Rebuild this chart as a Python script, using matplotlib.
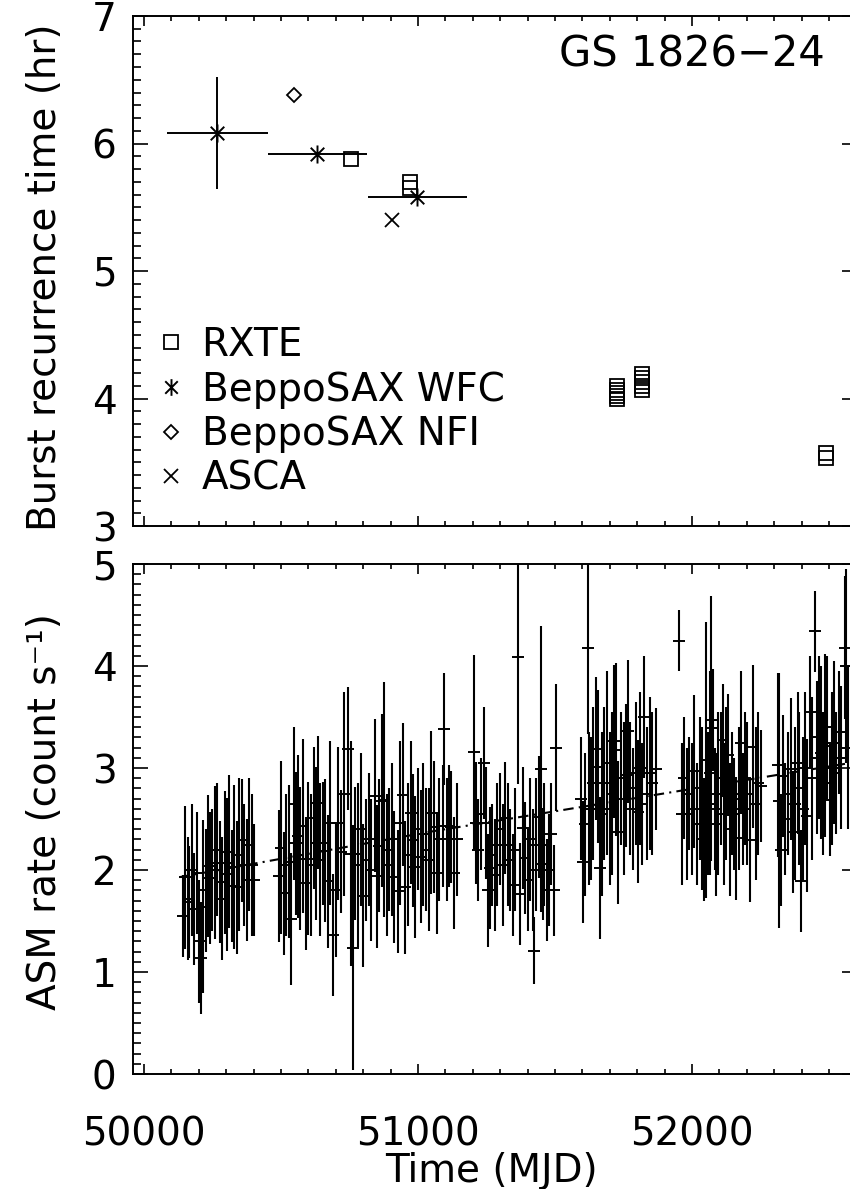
import numpy as np
import matplotlib
matplotlib.use('Agg')
import matplotlib.pyplot as plt
from matplotlib.path import Path
from matplotlib.lines import Line2D
from matplotlib.ticker import MultipleLocator, FormatStrFormatter

plt.rcParams['font.family'] = ['DejaVu Sans']

# ---- top panel: burst recurrence times (hr) ----
rxte_t = [50757, 50971, 50971,
          51728, 51728, 51728, 51728, 51728,
          51817, 51817, 51817, 51817, 51817,
          52488, 52488]
rxte_dt = [5.88, 5.70, 5.65,
           4.10, 4.07, 4.04, 4.02, 4.00,
           4.19, 4.16, 4.13, 4.10, 4.07,
           3.57, 3.53]

wfc_t = [50268, 50633, 50998]
wfc_dt = [6.08, 5.92, 5.58]
wfc_terr = [183, 182, 182]
wfc_err = [0.44, 0.0, 0.0]

nfi_t = [50546]
nfi_dt = [6.38]

asca_t = [50905]
asca_dt = [5.40]

# ---- bottom panel: RXTE/ASM rate (count/s) ----
tA = [50141, 50150, 50159, 50166, 50174, 50183, 50192, 50201, 50208, 50216,
      50225, 50233, 50241, 50250, 50259, 50268, 50277, 50285, 50294, 50303,
      50312, 50321, 50330, 50339, 50348, 50357, 50366, 50375, 50384, 50393, 50402]
rA = [1.55, 1.93, 1.72, 1.69, 2.00, 1.62, 1.97, 1.30, 1.14, 1.64,
      1.80, 2.04, 1.92, 2.00, 2.07, 2.20, 1.88, 1.72, 2.07, 1.96,
      2.18, 1.84, 2.03, 1.83, 2.15, 2.29, 2.05, 1.90, 2.25, 2.05, 1.90]
eA = [0.40, 0.70, 0.60, 0.55, 0.65, 0.55, 0.60, 0.60, 0.55, 0.85,
      0.60, 0.70, 0.65, 0.60, 0.75, 0.65, 0.60, 0.60, 0.70, 0.75,
      0.75, 0.55, 0.80, 0.65, 0.75, 0.60, 0.60, 0.60, 0.65, 0.70, 0.55]

tB = [50494, 50500, 50512, 50520, 50530, 50537, 50549, 50556, 50562, 50570,
      50580, 50591, 50600, 50610, 50620, 50628, 50634, 50644, 50652, 50660,
      50670, 50680, 50690, 50700, 50708, 50718, 50731, 50743, 50755, 50762,
      50770, 50780, 50792, 50800, 50812, 50820, 50830, 50842, 50850, 50859,
      50868, 50877, 50886, 50895, 50905, 50914, 50926, 50935, 50944, 50952,
      50962, 50973, 50981, 50990, 51000, 51010, 51020, 51030, 51040, 51047,
      51058, 51068, 51078, 51090, 51096, 51105, 51114, 51122, 51132, 51142]
rB = [1.94, 2.22, 1.77, 2.05, 2.08, 1.52, 2.65, 2.26, 2.33, 2.11,
      2.43, 1.87, 2.11, 2.05, 2.51, 2.26, 2.66, 2.10, 2.26, 2.19,
      1.89, 2.46, 1.36, 1.80, 2.46, 2.18, 2.75, 3.19, 2.16, 1.24,
      2.16, 2.05, 2.40, 1.75, 2.10, 2.30, 2.00, 2.73, 1.94, 2.24,
      2.68, 2.69, 2.05, 2.20, 2.30, 1.93, 1.79, 2.46, 2.74, 1.83,
      2.15, 2.56, 2.29, 2.03, 2.40, 2.13, 2.35, 2.20, 2.10, 2.56,
      2.42, 1.97, 2.30, 2.43, 3.38, 2.30, 2.43, 2.42, 1.97, 2.30]
eB = [0.65, 0.85, 0.60, 0.70, 0.75, 0.65, 0.75, 0.70, 0.80, 0.70,
      0.85, 0.65, 0.75, 0.70, 0.70, 0.75, 0.65, 0.75, 0.60, 0.70,
      0.65, 0.80, 0.60, 0.65, 0.75, 0.60, 1.00, 0.60, 1.10, 1.20,
      0.65, 0.80, 0.75, 0.70, 0.60, 0.65, 0.70, 0.75, 0.70, 0.65,
      0.85, 1.15, 0.70, 0.60, 0.75, 0.65, 0.60, 0.80, 0.70, 0.65,
      0.70, 0.70, 0.65, 0.70, 0.60, 0.65, 0.70, 0.60, 0.70, 0.80,
      0.65, 0.60, 0.60, 0.60, 0.55, 0.60, 0.60, 0.55, 0.55, 0.55]

tC = [51206, 51212, 51220, 51230, 51240, 51248, 51256, 51262, 51270, 51280,
      51290, 51300, 51310, 51318, 51327, 51335, 51345, 51355, 51364, 51372,
      51382, 51390, 51400, 51410, 51418, 51425, 51431, 51441, 51449, 51455,
      51461, 51470, 51479, 51487, 51495, 51504]
rC = [3.16, 2.46, 2.20, 2.55, 3.05, 2.46, 1.80, 2.02, 2.15, 1.95,
      2.25, 2.40, 2.05, 2.51, 2.25, 2.10, 1.85, 2.20, 4.09, 1.76,
      2.41, 2.12, 1.90, 2.30, 2.00, 1.21, 2.25, 2.52, 2.99, 2.06,
      2.25, 1.80, 2.00, 2.35, 1.80, 3.20]
eC = [0.95, 0.60, 0.50, 0.55, 0.55, 0.55, 0.55, 0.60, 0.50, 0.55,
      0.60, 0.55, 0.60, 0.55, 0.60, 0.50, 0.50, 0.60, 1.25, 0.50,
      0.60, 0.55, 0.50, 0.60, 0.60, 0.33, 0.65, 0.60, 1.40, 0.55,
      0.60, 0.50, 0.55, 0.50, 0.45, 0.62]

tD = [51595, 51601, 51610, 51619, 51625, 51632, 51640, 51650, 51656, 51663,
      51670, 51680, 51690, 51700, 51708, 51717, 51722, 51730, 51740, 51750,
      51759, 51765, 51775, 51785, 51795, 51802, 51810, 51818, 51826, 51835,
      51845, 51855, 51869]
rD = [2.70, 2.08, 2.45, 4.18, 2.60, 2.60, 2.85, 3.19, 3.01, 2.02,
      2.55, 2.85, 3.05, 2.60, 2.75, 3.26, 3.18, 2.37, 2.90, 2.70,
      2.93, 3.36, 2.80, 2.60, 2.95, 2.57, 3.00, 2.65, 3.50, 2.75,
      2.95, 2.85, 2.99]
eD = [0.60, 0.60, 0.70, 0.85, 0.75, 0.70, 0.75, 0.70, 0.75, 0.70,
      0.80, 0.75, 0.90, 0.75, 0.80, 0.75, 0.85, 0.70, 0.65, 0.75,
      0.70, 0.70, 0.65, 0.60, 0.70, 0.70, 0.75, 0.60, 0.60, 0.65,
      0.75, 0.70, 0.60]

tE = [51954, 51965, 51972, 51980, 51990, 52000, 52009, 52018, 52028, 52038,
      52045, 52051, 52058, 52064, 52070, 52076, 52082, 52088, 52095, 52105,
      52112, 52118, 52125, 52131, 52137, 52145, 52152, 52161, 52170, 52179,
      52186, 52195, 52202, 52210, 52222, 52232, 52242, 52252]
rE = [4.25, 2.55, 2.90, 2.55, 2.75, 2.60, 2.97, 2.45, 2.80, 2.60,
      2.30, 3.08, 2.65, 2.95, 3.39, 3.47, 2.60, 2.45, 2.75, 2.90,
      3.27, 2.55, 2.85, 3.13, 2.40, 2.75, 2.55, 2.31, 2.70, 3.25,
      2.60, 2.90, 2.75, 2.29, 3.21, 2.65, 2.85, 2.82]
eE = [0.30, 0.70, 0.60, 0.65, 0.55, 0.65, 0.75, 0.60, 0.70, 0.80,
      0.60, 1.35, 0.70, 1.00, 1.30, 0.50, 0.60, 0.70, 0.80, 0.65,
      0.55, 0.70, 0.75, 0.60, 0.65, 0.60, 0.55, 0.60, 0.70, 0.70,
      0.55, 0.65, 0.70, 0.60, 0.80, 0.75, 0.70, 0.55]

tF = [52313, 52319, 52325, 52331, 52340, 52350, 52360, 52368, 52375, 52385,
      52392, 52398, 52405, 52412, 52418, 52429, 52437, 52447, 52455, 52462,
      52470, 52478, 52484, 52492, 52502, 52510, 52518, 52526, 52538, 52545,
      52557, 52563, 52570]
rF = [3.03, 2.68, 2.20, 2.92, 2.50, 2.75, 2.99, 2.37, 2.65, 3.05,
      2.80, 1.89, 2.60, 3.00, 2.53, 3.55, 2.90, 4.34, 3.10, 3.30,
      3.15, 2.85, 3.22, 3.40, 2.69, 3.00, 3.25, 2.95, 3.35, 3.10,
      4.18, 4.00, 3.20]
eF = [0.90, 1.25, 0.55, 0.60, 0.55, 0.60, 0.70, 0.60, 0.75, 0.70,
      0.75, 0.50, 0.70, 0.75, 0.75, 0.55, 0.80, 0.40, 0.75, 0.80,
      0.85, 0.70, 0.90, 0.70, 0.55, 0.75, 0.80, 0.60, 0.60, 0.70,
      0.70, 0.95, 0.80]

asm_t = tA + tB + tC + tD + tE + tF
asm_rate = rA + rB + rC + rD + rE + rF
asm_err = eA + eB + eC + eD + eE + eF

# long-term trend (dash-dot line)
trend_t = [50130, 51055, 52602]
trend_rate = [1.93, 2.38, 3.06]

# IDL-like asterisk: vertical bar plus an X
ast = Path([(0, -1), (0, 1), (-0.75, -0.75), (0.75, 0.75), (-0.75, 0.75), (0.75, -0.75)],
           [Path.MOVETO, Path.LINETO, Path.MOVETO, Path.LINETO, Path.MOVETO, Path.LINETO])

fs = 28
fig = plt.figure(figsize=(8.5, 11.89), dpi=100)
# right spine sits just past the cropped edge, as in the original
ax1 = fig.add_axes([133/850, 1 - 526/1189, 724/850, 510/1189])
ax2 = fig.add_axes([133/850, 1 - 1074/1189, 724/850, 510/1189])

for ax in (ax1, ax2):
    ax.set_xlim(49960, 52602)
    ax.xaxis.set_major_locator(MultipleLocator(1000))
    ax.xaxis.set_minor_locator(MultipleLocator(100))
    ax.yaxis.set_major_locator(MultipleLocator(1))
    ax.yaxis.set_minor_locator(MultipleLocator(0.1))
    ax.xaxis.set_major_formatter(FormatStrFormatter('%d'))
    ax.yaxis.set_major_formatter(FormatStrFormatter('%d'))
    ax.tick_params(which='both', direction='in', top=True, right=True, width=1.2,
                   labelsize=fs, color='k')
    ax.tick_params(axis='x', which='major', length=7.2, pad=30)
    ax.tick_params(axis='x', which='minor', length=3.6)
    ax.tick_params(axis='y', which='major', length=10.8, pad=12)
    ax.tick_params(axis='y', which='minor', length=5.4)
    for s in ax.spines.values():
        s.set_linewidth(1.4)

# top panel
ax1.set_ylim(3, 7)
ax1.tick_params(labelbottom=False)
ax1.errorbar(wfc_t, wfc_dt, xerr=wfc_terr, yerr=wfc_err, fmt='none', ecolor='k',
             elinewidth=1.4, capsize=0)
ax1.plot(wfc_t, wfc_dt, ls='none', marker=ast, ms=13, mec='k', mew=1.4)
ax1.plot(rxte_t, rxte_dt, ls='none', marker='s', ms=10.5, mfc='none', mec='k', mew=1.3)
ax1.plot(nfi_t, nfi_dt, ls='none', marker='D', ms=7, mfc='none', mec='k', mew=1.3)
ax1.plot(asca_t, asca_dt, ls='none', marker='x', ms=9.5, mec='k', mew=1.3)
ax1.text(0.955, 0.925, 'GS 1826\u221224', transform=ax1.transAxes, ha='right',
         va='center', fontsize=30)
ax1.set_ylabel('Burst recurrence time (hr)', fontsize=fs)
ax1.yaxis.label.set_va('center')
ax1.yaxis.set_label_coords(-0.122, 0.488)

handles = [Line2D([], [], ls='none', marker='s', ms=10, mfc='none', mec='k', mew=1.3),
           Line2D([], [], ls='none', marker=ast, ms=12, mec='k', mew=1.4),
           Line2D([], [], ls='none', marker='D', ms=7, mfc='none', mec='k', mew=1.3),
           Line2D([], [], ls='none', marker='x', ms=9.5, mec='k', mew=1.3)]
labels = ['RXTE', 'BeppoSAX WFC', 'BeppoSAX NFI', 'ASCA']
ax1.legend(handles, labels, loc='upper left', bbox_to_anchor=(0.026, 0.392),
           frameon=False, fontsize=fs, handlelength=1.0, handletextpad=0.28,
           labelspacing=0.17, borderpad=0, borderaxespad=0)

# bottom panel
ax2.set_ylim(0, 5)
ax2.errorbar(asm_t, asm_rate, yerr=asm_err, fmt='none', ecolor='k',
             elinewidth=1.5, capsize=0)
ax2.plot(asm_t, asm_rate, ls='none', marker='+', ms=9, mew=1.4, color='k')
ax2.plot(trend_t, trend_rate, color='k', lw=1.5, dashes=[5, 2.5, 1, 2.5])
ax2.set_ylabel('ASM rate (count s\u207b\u00b9)', fontsize=fs)
ax2.yaxis.label.set_va('center')
ax2.yaxis.set_label_coords(-0.122, 0.515)
ax2.set_xlabel('Time (MJD)', fontsize=fs)
ax2.xaxis.label.set_va('center')
ax2.xaxis.set_label_coords(0.495, -0.19)

fig.savefig('out.png', dpi=100)
